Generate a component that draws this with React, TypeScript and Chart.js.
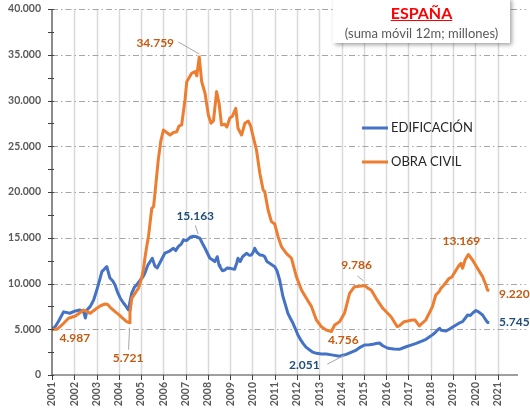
import { useEffect, useRef } from "react";
import { Chart, registerables } from "chart.js";
Chart.register(...registerables);

// ---- DATA ----
const edifYears = [
  2001.0, 2001.15, 2001.3, 2001.52, 2001.8, 2002.05, 2002.25, 2002.42, 2002.5, 2002.57, 2002.72, 2002.87,
  2003.0, 2003.1, 2003.24, 2003.4, 2003.46, 2003.6, 2003.72, 2003.83, 2003.95, 2004.06, 2004.2, 2004.28,
  2004.43, 2004.5, 2004.58, 2004.7, 2004.8, 2004.96, 2005.08, 2005.18, 2005.3, 2005.5, 2005.62, 2005.72,
  2005.85, 2006.07, 2006.25, 2006.45, 2006.55, 2006.67, 2006.8, 2006.9, 2007.05, 2007.2, 2007.34, 2007.5,
  2007.64, 2007.75, 2007.87, 2008.0, 2008.09, 2008.2, 2008.31, 2008.42, 2008.5, 2008.54, 2008.65, 2008.76,
  2008.87, 2008.98, 2009.1, 2009.2, 2009.3, 2009.35, 2009.45, 2009.55, 2009.73, 2009.85, 2009.95, 2010.05,
  2010.1, 2010.2, 2010.33, 2010.45, 2010.55, 2010.65, 2010.77, 2010.9, 2011.0, 2011.1, 2011.22, 2011.3,
  2011.37, 2011.5, 2011.59, 2011.7, 2011.82, 2011.95, 2012.04, 2012.15, 2012.27, 2012.4, 2012.57, 2012.7,
  2012.87, 2013.1, 2013.31, 2013.55, 2013.9, 2014.21, 2014.45, 2014.66, 2014.85, 2015.03, 2015.25, 2015.4,
  2015.55, 2015.7, 2015.85, 2016.08, 2016.35, 2016.59, 2016.75, 2016.9, 2017.15, 2017.35, 2017.6, 2017.79,
  2018.0, 2018.17, 2018.3, 2018.4, 2018.47, 2018.69, 2018.9, 2019.14, 2019.3, 2019.43, 2019.55, 2019.66,
  2019.78, 2019.9, 2020.03, 2020.15, 2020.33, 2020.45, 2020.55, 2020.63,
];
const edifValues = [
  5000, 5300, 5900, 6900, 6750, 7000, 7100, 6900, 6230, 7100, 7500, 8200,
  9200, 10050, 11300, 11700, 11840, 10600, 10300, 9840, 9000, 8420, 7900, 7650,
  7100, 8000, 8960, 9600, 9840, 10380, 10700, 11200, 12000, 12750, 11900, 11700,
  12300, 13330, 13500, 13850, 13600, 14030, 14300, 14760, 14700, 15050, 15163, 15100,
  14940, 14400, 13850, 13200, 12760, 12600, 12390, 12930, 12000, 11840, 11400, 11480,
  11700, 11660, 11600, 11550, 12300, 12760, 12400, 12900, 13300, 13100, 13120, 13500,
  13850, 13400, 13120, 13100, 12930, 12400, 12210, 12000, 11840, 11400, 10380, 9400,
  8560, 7500, 6740, 6200, 5650, 4900, 4370, 3900, 3460, 3050, 2730, 2500,
  2370, 2300, 2290, 2200, 2051, 2250, 2500, 2730, 3050, 3280, 3300, 3350,
  3450, 3500, 3200, 2920, 2850, 2810, 2950, 3090, 3300, 3460, 3700, 3900,
  4250, 4560, 4900, 5100, 4900, 4810, 5100, 5460, 5700, 5830, 6200, 6560,
  6500, 6800, 7050, 6900, 6560, 6100, 5750, 5745,
];

const civilYears = [
  2001.0, 2001.22, 2001.45, 2001.74, 2002.05, 2002.25, 2002.42, 2002.6, 2002.72, 2002.85, 2003.01, 2003.2,
  2003.39, 2003.5, 2003.65, 2003.83, 2004.0, 2004.13, 2004.35, 2004.46, 2004.5, 2004.58, 2004.75, 2004.88,
  2005.0, 2005.1, 2005.18, 2005.25, 2005.33, 2005.48, 2005.56, 2005.63, 2005.77, 2005.88, 2006.0, 2006.15,
  2006.3, 2006.45, 2006.6, 2006.7, 2006.82, 2006.97, 2007.05, 2007.27, 2007.42, 2007.5, 2007.61, 2007.72,
  2007.87, 2008.02, 2008.14, 2008.25, 2008.39, 2008.5, 2008.61, 2008.75, 2008.85, 2008.98, 2009.1, 2009.25,
  2009.35, 2009.51, 2009.66, 2009.81, 2009.92, 2010.03, 2010.18, 2010.33, 2010.48, 2010.55, 2010.7, 2010.85,
  2011.0, 2011.15, 2011.3, 2011.52, 2011.75, 2011.97, 2012.2, 2012.42, 2012.65, 2012.87, 2013.09, 2013.31,
  2013.54, 2013.69, 2013.91, 2014.13, 2014.36, 2014.58, 2014.8, 2015.03, 2015.18, 2015.33, 2015.55, 2015.85,
  2016.22, 2016.5, 2016.59, 2016.81, 2017.18, 2017.3, 2017.49, 2017.78, 2018.08, 2018.23, 2018.38, 2018.46,
  2018.6, 2018.83, 2018.95, 2019.15, 2019.28, 2019.36, 2019.43, 2019.55, 2019.69, 2019.88, 2020.1, 2020.33,
  2020.48, 2020.55, 2020.63,
];
const civilValues = [
  5000, 4987, 5470, 6200, 6450, 6800, 7100, 6900, 6740, 7000, 7290, 7600,
  7760, 7700, 7300, 6920, 6600, 6300, 5830, 5721, 6800, 8380, 9000, 9480,
  10380, 11480, 12930, 14030, 15120, 18220, 18400, 20040, 23500, 25500, 26780, 26500,
  26230, 26500, 26590, 27200, 27330, 30060, 32060, 32980, 33160, 32700, 34759, 32060,
  30790, 28420, 27510, 27800, 30970, 29700, 27330, 27400, 27100, 28060, 28300, 29150,
  26970, 26230, 27510, 27760, 27200, 26050, 24590, 22050, 20220, 20040, 18040, 16760,
  16500, 15120, 14030, 13300, 12760, 10750, 9290, 8380, 7470, 6010, 5280, 4920,
  4756, 5470, 5830, 6740, 8930, 9650, 9700, 9786, 9500, 9290, 8380, 7290,
  6370, 5280, 5360, 5830, 6010, 6000, 5360, 6010, 7470, 8740, 9110, 9480,
  9840, 10570, 10700, 11500, 12020, 12210, 11660, 12600, 13169, 12570, 11660, 10750,
  9840, 9290, 9220,
];

const seriesNames = ["EDIFICACIÓN", "OBRA CIVIL"];
const titleText = "ESPAÑA";
const subtitleText = "(suma móvil 12m; millones)";
const xMin = 2001;
const xMax = 2021.92;
const yMax = 40000;
const yStep = 5000;

const civilLabelYears = [2001.22, 2004.46, 2007.61, 2013.54, 2015.03, 2019.69, 2020.63];
const edifLabelYears = [2007.34, 2013.9, 2020.63];

// ---- STYLE ----
const BLUE = "#4472C4";
const ORANGE = "#ED7D31";
const BLUE_LBL = "#1F4E79";
const ORANGE_LBL = "#C55A11";
const FONT = "Lato, 'Liberation Sans', Arial, sans-serif";

const civilLabelOffsets: any[] = [
  [18, 8.5, null],
  [-1, 35, [0.5, 5, -0.5, 27]],
  [-44, -14, [-21, -15, 0, -3]],
  [12, 9, null],
  [-8, -20, [-7, -9.5, -1, -4.5]],
  [-7, -13, null],
  [25, 3.5, null],
];
const edifLabelOffsets: any[] = [
  [2, -20, [2, -11, 5, -2]],
  [-35, 9, [-12, 8, 5, -1]],
  [25, -0.5, null],
];

const fmt = (v: number) =>
  Math.round(v).toString().replace(/\B(?=(\d{3})+(?!\d))/g, ".");

const gridPlugin = {
  id: "customGrid",
  beforeDatasetsDraw(chart: any) {
    const { ctx, chartArea: a, scales } = chart;
    const xs = scales.x;
    const ys = scales.y;
    ctx.save();
    ctx.strokeStyle = "#D9D9D9";
    ctx.lineWidth = 1.5;
    for (let yr = xMin + 1; yr <= Math.floor(xMax); yr++) {
      const px = Math.round(xs.getPixelForValue(yr)) + 0.5;
      ctx.beginPath();
      ctx.moveTo(px, a.top);
      ctx.lineTo(px, a.bottom);
      ctx.stroke();
    }
    ctx.strokeStyle = "#A6A6A6";
    ctx.lineWidth = 1;
    ctx.setLineDash([6, 3, 1.5, 3]);
    for (let v = yStep; v <= yMax; v += yStep) {
      const py = Math.round(ys.getPixelForValue(v)) + 0.5;
      ctx.beginPath();
      ctx.moveTo(a.left, py);
      ctx.lineTo(a.right + 8, py);
      ctx.stroke();
    }
    ctx.restore();
  },
  afterDatasetsDraw(chart: any) {
    const { ctx, chartArea: a, scales } = chart;
    const xs = scales.x;
    const ys = scales.y;
    ctx.save();
    ctx.strokeStyle = "#404040";
    ctx.lineWidth = 1.2;
    ctx.beginPath();
    ctx.moveTo(a.left, a.top);
    ctx.lineTo(a.left, a.bottom);
    ctx.lineTo(a.right, a.bottom);
    ctx.stroke();
    ctx.lineWidth = 1;
    for (let v = 0; v <= yMax; v += yStep / 2) {
      const py = Math.round(ys.getPixelForValue(v)) + 0.5;
      ctx.beginPath();
      ctx.moveTo(a.left - 4, py);
      ctx.lineTo(a.left + 2, py);
      ctx.stroke();
    }
    for (let yr = xMin; yr <= Math.floor(xMax); yr++) {
      const px = Math.round(xs.getPixelForValue(yr)) + 0.5;
      ctx.beginPath();
      ctx.moveTo(px, a.bottom);
      ctx.lineTo(px, a.bottom + 5);
      ctx.stroke();
    }
    ctx.restore();
  },
};

const findVal = (years: number[], values: number[], yr: number) => {
  let best = 0;
  for (let i = 0; i < years.length; i++)
    if (Math.abs(years[i] - yr) < Math.abs(years[best] - yr)) best = i;
  return values[best];
};

const annotPlugin = {
  id: "annotations",
  afterDraw(chart: any) {
    const { ctx, scales } = chart;
    const xs = scales.x;
    const ys = scales.y;
    ctx.save();
    const draw = (years: number[], values: number[], labelYears: number[], offs: any[], color: string) => {
      labelYears.forEach((yr, i) => {
        const v = findVal(years, values, yr);
        const px = xs.getPixelForValue(yr);
        const py = ys.getPixelForValue(v);
        const [dx, dy, leader] = offs[i];
        if (leader) {
          ctx.strokeStyle = "#A6A6A6";
          ctx.lineWidth = 1;
          ctx.beginPath();
          ctx.moveTo(px + leader[0], py + leader[1]);
          ctx.lineTo(px + leader[2], py + leader[3]);
          ctx.stroke();
        }
        ctx.fillStyle = color;
        ctx.font = `bold 12px ${FONT}`;
        ctx.textAlign = "center";
        ctx.textBaseline = "middle";
        ctx.fillText(fmt(v), px + dx, py + dy);
      });
    };
    draw(civilYears, civilValues, civilLabelYears, civilLabelOffsets, ORANGE_LBL);
    draw(edifYears, edifValues, edifLabelYears, edifLabelOffsets, BLUE_LBL);

    const items = [
      { name: seriesNames[0], color: BLUE, y: 128 },
      { name: seriesNames[1], color: ORANGE, y: 162 },
    ];
    items.forEach((it) => {
      ctx.strokeStyle = it.color;
      ctx.lineWidth = 3;
      ctx.beginPath();
      ctx.moveTo(362, it.y);
      ctx.lineTo(388, it.y);
      ctx.stroke();
      ctx.fillStyle = "#262626";
      ctx.font = `13px ${FONT}`;
      ctx.textAlign = "left";
      ctx.textBaseline = "middle";
      ctx.fillText(it.name, 391, it.y);
    });
    ctx.restore();
  },
};

export default function App() {
  const ref = useRef<HTMLCanvasElement | null>(null);
  useEffect(() => {
    if (!ref.current) return;
    const tickFont = { family: FONT, size: 10.5, weight: "bold" as const };
    const chart = new Chart(ref.current, {
      type: "line",
      data: {
        datasets: [
          {
            label: seriesNames[1],
            data: civilYears.map((x, i) => ({ x, y: civilValues[i] })),
            borderColor: ORANGE,
            backgroundColor: ORANGE,
            borderWidth: 3,
            pointRadius: 0,
            tension: 0,
            borderJoinStyle: "round",
          },
          {
            label: seriesNames[0],
            data: edifYears.map((x, i) => ({ x, y: edifValues[i] })),
            borderColor: BLUE,
            backgroundColor: BLUE,
            borderWidth: 3,
            pointRadius: 0,
            tension: 0,
            borderJoinStyle: "round",
          },
        ],
      },
      options: {
        animation: false,
        responsive: true,
        maintainAspectRatio: false,
        layout: { padding: { left: 0, top: 9, right: 12, bottom: 0 } },
        plugins: { legend: { display: false }, tooltip: { enabled: false } },
        scales: {
          x: {
            type: "linear",
            min: xMin,
            max: xMax,
            grid: { display: false, drawTicks: false },
            border: { display: false },
            ticks: {
              stepSize: 1,
              includeBounds: false,
              autoSkip: false,
              minRotation: 90,
              maxRotation: 90,
              padding: 7,
              color: "#595959",
              font: tickFont,
              callback: (v: any) => String(v),
            },
            afterFit: (s: any) => {
              s.height = 36;
              s.paddingTop = 0;
              s.paddingBottom = 0;
            },
          },
          y: {
            min: 0,
            max: yMax,
            grid: { display: false, drawTicks: false },
            border: { display: false },
            ticks: {
              stepSize: yStep,
              padding: 11,
              color: "#595959",
              font: tickFont,
              callback: (v: any) => fmt(Number(v)),
            },
            afterFit: (s: any) => {
              s.width = 52;
              s.paddingTop = 0;
              s.paddingBottom = 0;
            },
          },
        },
      },
      plugins: [gridPlugin, annotPlugin],
    } as any);
    return () => chart.destroy();
  }, []);

  return (
    <div style={{ position: "fixed", left: 0, top: 0, width: 530, height: 411, background: "#fff", overflow: "hidden" }}>
      <canvas ref={ref} />
      <div
        style={{
          position: "absolute",
          left: 333,
          top: -2,
          width: 177,
          height: 45,
          background: "#fff",
          boxShadow: "2px 2px 4px rgba(0,0,0,0.35)",
          textAlign: "center",
          fontFamily: FONT,
        }}
      >
        <div style={{ color: "#FF0000", fontWeight: 700, fontSize: 16, textDecoration: "underline", lineHeight: "18px", marginTop: 6 }}>
          {titleText}
        </div>
        <div style={{ color: "#595959", fontSize: 13, lineHeight: "16px", marginTop: 3 }}>{subtitleText}</div>
      </div>
    </div>
  );
}
